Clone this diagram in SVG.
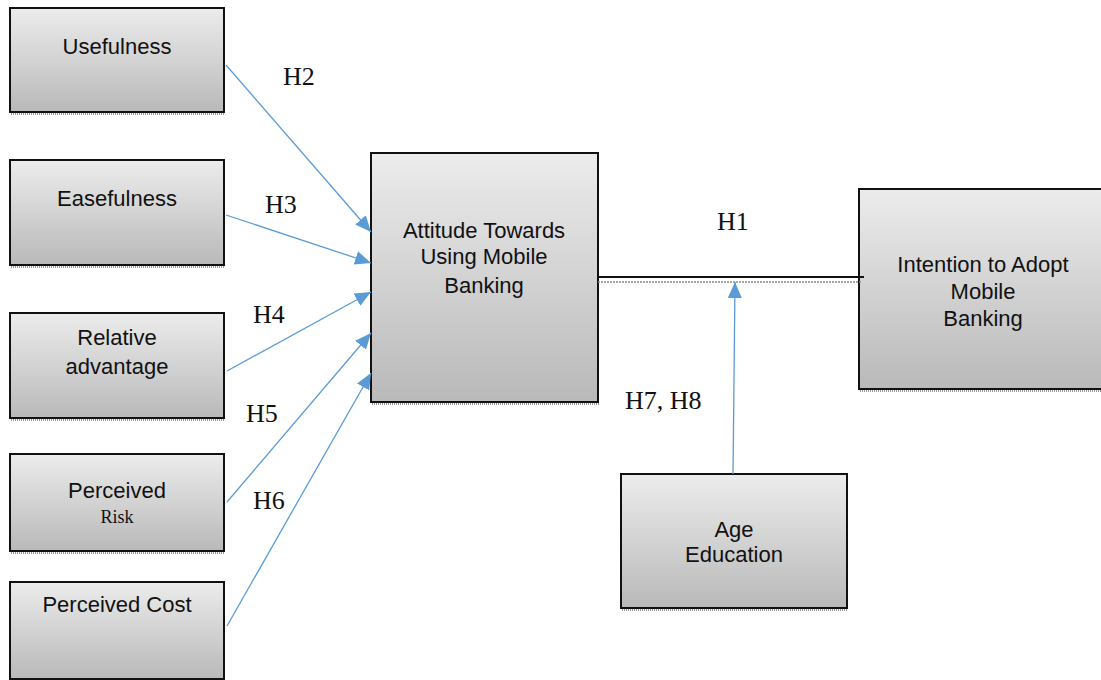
<svg xmlns="http://www.w3.org/2000/svg" width="1101" height="680" viewBox="0 0 1101 680">
<defs>
<linearGradient id="g" x1="0" y1="0" x2="0" y2="1">
<stop offset="0" stop-color="#ececec"/>
<stop offset="1" stop-color="#b9b9b9"/>
</linearGradient>
<marker id="ah" markerUnits="userSpaceOnUse" markerWidth="18" markerHeight="14" refX="16" refY="7" orient="auto">
<path d="M0,0 L16,7 L0,14 Z" fill="#5b9bd5"/>
</marker>
<style>
.box{fill:url(#g);stroke:#111;stroke-width:2}
.sh{fill:none;stroke:#9a9a9a;stroke-width:2;stroke-dasharray:1 1}
.t{font-family:"Liberation Sans",Arial,sans-serif;font-size:22px;fill:#111;text-anchor:middle}
.s{font-family:"Liberation Serif","Times New Roman",serif;fill:#111}
.h{font-family:"Liberation Serif","Times New Roman",serif;font-size:26px;fill:#111}
.c{stroke:#5b9bd5;stroke-width:1.3;fill:none;marker-end:url(#ah)}
</style>
</defs>
<rect width="1101" height="680" fill="#fff"/>
<g id="usefulness">
<line class="sh" x1="11" y1="114" x2="225" y2="114"/>
<rect class="box" x="10" y="8" width="214" height="104"/>
<text class="t" x="117" y="54">Usefulness</text>
</g>
<g id="easefulness">
<line class="sh" x1="11" y1="267" x2="225" y2="267"/>
<rect class="box" x="10" y="160" width="214" height="105"/>
<text class="t" x="117" y="206">Easefulness</text>
</g>
<g id="relative-advantage">
<line class="sh" x1="11" y1="420" x2="225" y2="420"/>
<rect class="box" x="10" y="313" width="214" height="105"/>
<text class="t" x="117" y="345">Relative</text>
<text class="t" x="117" y="374">advantage</text>
</g>
<g id="perceived-risk">
<line class="sh" x1="11" y1="553" x2="225" y2="553"/>
<rect class="box" x="10" y="454" width="214" height="97"/>
<text class="t" x="117" y="498">Perceived</text>
<text class="s" x="117" y="523" font-size="18" text-anchor="middle">Risk</text>
</g>
<g id="perceived-cost">
<rect class="box" x="10" y="582" width="214" height="97"/>
<text class="t" x="117" y="612">Perceived Cost</text>
</g>
<g id="attitude">
<line class="sh" x1="372" y1="404" x2="599" y2="404"/>
<rect class="box" x="371" y="153" width="227" height="249"/>
<text class="t" x="484" y="238">Attitude Towards</text>
<text class="t" x="484" y="264">Using Mobile</text>
<text class="t" x="484" y="293" font-size="24">Banking</text>
</g>
<g id="intention">
<line class="sh" x1="860" y1="391" x2="1101" y2="391"/>
<rect class="box" x="859" y="189" width="243" height="200"/>
<text class="t" x="983" y="272">Intention to Adopt</text>
<text class="t" x="983" y="299">Mobile</text>
<text class="t" x="983" y="326">Banking</text>
</g>
<g id="age-education">
<line class="sh" x1="622" y1="610" x2="848" y2="610"/>
<rect class="box" x="621" y="474" width="226" height="134"/>
<text class="t" x="734" y="537">Age</text>
<text class="t" x="734" y="562">Education</text>
</g>
<g id="connectors">
<line x1="598" y1="277" x2="864" y2="277" stroke="#111" stroke-width="2"/>
<line x1="598" y1="282" x2="862" y2="282" stroke="#8a8a8a" stroke-width="1.5" stroke-dasharray="2 1"/>
<line class="c" x1="226" y1="65" x2="371" y2="232"/>
<line class="c" x1="226" y1="215" x2="371" y2="263"/>
<line class="c" x1="227" y1="371" x2="371" y2="292"/>
<line class="c" x1="227" y1="502" x2="371" y2="333"/>
<line class="c" x1="227" y1="626" x2="371" y2="373"/>
<line class="c" x1="733" y1="474" x2="735" y2="282"/>
</g>
<g id="labels">
<text class="h" x="283" y="85">H2</text>
<text class="h" x="265" y="213">H3</text>
<text class="h" x="253" y="323">H4</text>
<text class="h" x="246" y="422">H5</text>
<text class="h" x="253" y="509">H6</text>
<text class="h" x="717" y="230">H1</text>
<text class="h" x="625" y="409">H7, H8</text>
</g>
</svg>
